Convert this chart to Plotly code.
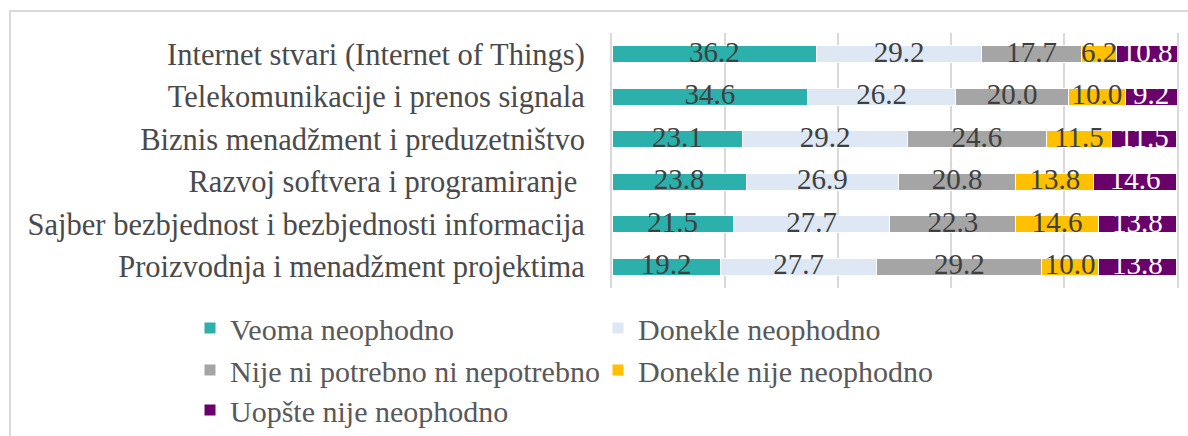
import plotly.graph_objects as go
import numpy as np

categories = [
    "Internet stvari (Internet of Things)",
    "Telekomunikacije i prenos signala",
    "Biznis menadžment i preduzetništvo",
    "Razvoj softvera i programiranje ",
    "Sajber bezbjednost i bezbjednosti informacija",
    "Proizvodnja i menadžment projektima",
]
series_names = [
    "Veoma neophodno",
    "Donekle neophodno",
    "Nije ni potrebno ni nepotrebno",
    "Donekle nije neophodno",
    "Uopšte nije neophodno",
]
veoma = [36.2, 34.6, 23.1, 23.8, 21.5, 19.2]
donekle = [29.2, 26.2, 29.2, 26.9, 27.7, 27.7]
nije_ni = [17.7, 20.0, 24.6, 20.8, 22.3, 29.2]
donekle_nije = [6.2, 10.0, 11.5, 13.8, 14.6, 10.0]
uopste = [10.8, 9.2, 11.5, 14.6, 13.8, 13.8]
values = [veoma, donekle, nije_ni, donekle_nije, uopste]

colors = ["#2CB0AC", "#DDE8F4", "#A5A5A5", "#FFC000", "#6A006A"]
label_colors = ["#404040", "#404040", "#404040", "#404040", "#FFFFFF"]

FONT = "Liberation Serif"
W, H = 1188, 436
L, R, T, B = 612, 11, 33, 148
pw = W - L - R
ph = H - T - B

def px_x(p):
    return (p - L) / pw

def px_y(p):
    return (H - B - p) / ph

fig = go.Figure()

legend_pos = [(190, 328), (598, 328), (190, 370), (598, 370), (190, 410)]
legend_names = ["legend", "legend2", "legend3", "legend4", "legend5"]

for i, (name, vals) in enumerate(zip(series_names, values)):
    fig.add_trace(go.Bar(
        y=categories, x=vals, name=name, orientation="h",
        marker=dict(color=colors[i], line=dict(color="white", width=1)),
        legend=legend_names[i], hoverinfo="skip",
    ))

cum = np.zeros(len(categories))
for i, vals in enumerate(values):
    v = np.array(vals)
    mids = cum + v / 2
    cum = cum + v
    fig.add_trace(go.Scatter(
        y=categories, x=mids, mode="text", text=[f"{x:.1f}" for x in vals],
        textfont=dict(family=FONT, size=29, color=label_colors[i]),
        textposition="middle center", showlegend=False, hoverinfo="skip",
    ))

layout_legends = {}
for ln, (lx, ly) in zip(legend_names, legend_pos):
    layout_legends[ln] = dict(
        x=px_x(lx), y=px_y(ly), xanchor="left", yanchor="middle",
        font=dict(family=FONT, size=30, color="#595959"),
        bgcolor="rgba(0,0,0,0)", orientation="h",
    )

fig.update_layout(
    width=W, height=H,
    margin=dict(l=L, r=R, t=T, b=B, autoexpand=False),
    barmode="stack", bargap=0.6,
    plot_bgcolor="white", paper_bgcolor="white",
    font=dict(family=FONT, size=30, color="#595959"),
    xaxis=dict(range=[0, 100], dtick=20, showticklabels=False,
               showgrid=True, gridcolor="#D9D9D9", gridwidth=2,
               zeroline=False, showline=False),
    yaxis=dict(autorange="reversed", showgrid=False, ticks="",
               ticklabelstandoff=19, showline=True, mirror=True,
               linecolor="#D9D9D9", linewidth=2,
               tickfont=dict(family=FONT, size=30.5, color="#4a4a4a")),
    showlegend=True,
    shapes=[dict(type="rect", xref="paper", yref="paper",
                 x0=px_x(10), x1=px_x(1220), y0=px_y(470), y1=px_y(11),
                 line=dict(color="#D9D9D9", width=2), fillcolor="rgba(0,0,0,0)",
                 layer="below")],
    **layout_legends,
)

fig.write_html("out.html", config={"displayModeBar": False},
               post_script="document.body.style.margin='0';document.body.style.padding='0';")
